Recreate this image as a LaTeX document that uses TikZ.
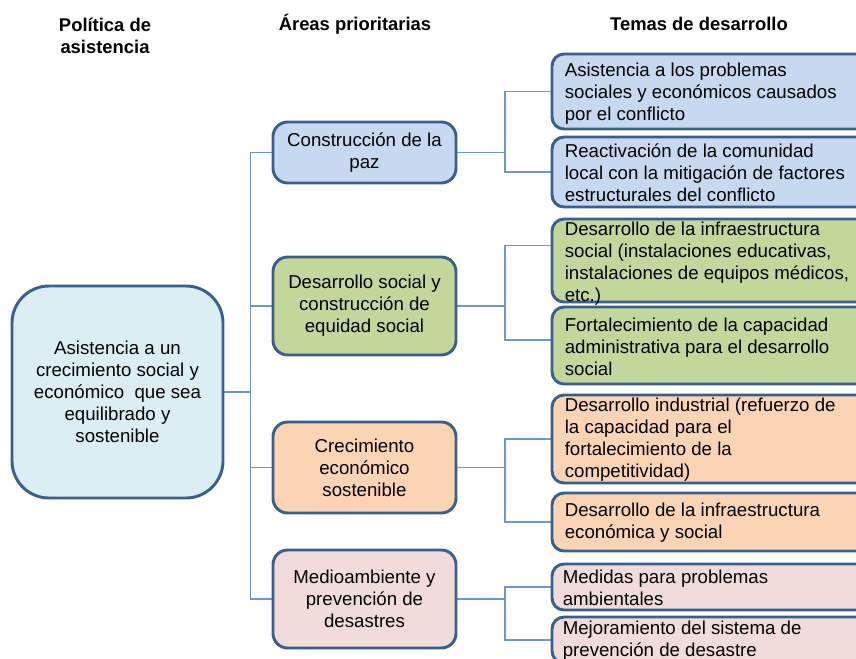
\documentclass[tikz,border=0pt]{standalone}
\usepackage{fontspec}
\setmainfont{Liberation Sans}
\usetikzlibrary{calc,backgrounds}
\definecolor{bordc}{HTML}{3A5F8E}
\definecolor{linec}{HTML}{7096C8}
\definecolor{leftfill}{HTML}{DBEEF4}
\definecolor{bluefill}{HTML}{C6D9F1}
\definecolor{greenfill}{HTML}{C4D79B}
\definecolor{peachfill}{HTML}{FBD4B4}
\definecolor{pinkfill}{HTML}{F2DCDB}
\tikzset{
  txt/.style={font=\fontsize{14}{16.5}\selectfont, text=black},
  hdr/.style={font=\fontsize{13.8}{16.5}\selectfont\bfseries, align=center, inner sep=0pt},
  leftbox/.style={draw=bordc, line width=2.2pt, fill=leftfill, rounded corners=27.75pt,
     minimum width=158.25pt, minimum height=159pt, align=center, txt, inner sep=0pt},
  midbox/.style={draw=bordc, line width=2.2pt, rounded corners=11pt,
     minimum width=137.25pt, align=center, txt, inner sep=0pt},
  rbox/.style={draw=bordc, line width=2.2pt, rounded corners=9pt,
     minimum width=242.25pt, inner sep=0pt},
  rtext/.style={txt, align=left, inner sep=0pt, anchor=west},
  conn/.style={draw=linec, line width=1.1pt},
}
\begin{document}
\begin{tikzpicture}[x=0.75pt,y=-0.75pt]
\useasboundingbox (0,0) rectangle (856,658);
\clip (0,0) rectangle (856,658);
% headers
\node[hdr] (h1) at (105,35.5) {Política de\\asistencia};
\node[hdr] (h2) at (355,24) {Áreas prioritarias};
\node[hdr] (h3) at (699,24) {Temas de desarrollo};
% left box
\node[leftbox] (lb) at (117.5,392) {Asistencia a un\\crecimiento social y\\económico \ que sea\\equilibrado y\\sostenible};
% middle boxes
\node[midbox, fill=bluefill, minimum height=45.75pt] (m1) at (364.5,152.5) {Construcción de la\\paz};
\node[midbox, fill=greenfill, minimum height=73.5pt] (m2) at (364.5,306) {Desarrollo social y\\construcción de\\equidad social};
\node[midbox, fill=peachfill, minimum height=68.25pt] (m3) at (364.5,467.5) {Crecimiento\\económico\\sostenible};
\node[midbox, fill=pinkfill, minimum height=73.5pt] (m4) at (364.5,599) {Medioambiente y\\prevención de\\desastres};
% right boxes
\node[rbox, fill=bluefill, minimum height=56.25pt] (r1) at (713.5,91.5) {};
\node[rbox, fill=bluefill, minimum height=52.5pt] (r2) at (713.5,172) {};
\node[rbox, fill=greenfill, minimum height=62.25pt] (r3) at (713.5,260.5) {};
\node[rbox, fill=greenfill, minimum height=57.75pt] (r4) at (713.5,345.5) {};
\node[rbox, fill=peachfill, minimum height=66pt] (r5) at (713.5,439) {};
\node[rbox, fill=peachfill, minimum height=43.5pt] (r6) at (713.5,522) {};
\node[rbox, fill=pinkfill, minimum height=34.5pt] (r7) at (713.5,587) {};
\node[rbox, fill=pinkfill, minimum height=34.5pt] (r8) at (713.5,640) {};
% right texts
\node[rtext] (t1) at ($(r1.west)+(14,2)$) {Asistencia a los problemas\\sociales y económicos causados\\por el conflicto};
\node[rtext] (t2) at ($(r2.west)+(14,1)$) {Reactivación de la comunidad\\local con la mitigación de factores\\estructurales del conflicto};
\node[rtext] (t3) at ($(r3.west)+(14,3)$) {Desarrollo de la infraestructura\\social (instalaciones educativas,\\instalaciones de equipos médicos,\\etc.)};
\node[rtext] (t4) at ($(r4.west)+(14,1)$) {Fortalecimiento de la capacidad\\administrativa para el desarrollo\\social};
\node[rtext] (t5) at ($(r5.west)+(14,1)$) {Desarrollo industrial (refuerzo de\\la capacidad para el\\fortalecimiento de la\\competitividad)};
\node[rtext] (t6) at ($(r6.west)+(14,1)$) {Desarrollo de la infraestructura\\económica y social};
\node[rtext] (t7) at ($(r7.west)+(12,1)$) {Medidas para problemas\\ambientales};
\node[rtext] (t8) at ($(r8.west)+(12,1)$) {Mejoramiento del sistema de\\prevención de desastre};
% connectors
\coordinate (c3) at ($(r3.west)+(0,-15)$);
\coordinate (c4) at ($(r4.west)+(0,-5.5)$);
\begin{scope}[on background layer]
\draw[conn] (lb.east) -- ++(26,0) |- (m1.west);
\draw[conn] (lb.east) -- ++(26,0) |- (m2.west);
\draw[conn] (lb.east) -- ++(26,0) |- (m3.west);
\draw[conn] (lb.east) -- ++(26,0) |- (m4.west);
\draw[conn] (m1.east) -- ++(47.5,0) |- (r1.west);
\draw[conn] (m1.east) -- ++(47.5,0) |- (r2.west);
\draw[conn] (m2.east) -- ++(47.5,0) |- (c3);
\draw[conn] (m2.east) -- ++(47.5,0) |- (c4);
\draw[conn] (m3.east) -- ++(47.5,0) |- (r5.west);
\draw[conn] (m3.east) -- ++(47.5,0) |- (r6.west);
\draw[conn] (m4.east) -- ++(47.5,0) |- (r7.west);
\draw[conn] (m4.east) -- ++(47.5,0) |- (r8.west);
\end{scope}
\end{tikzpicture}
\end{document}
